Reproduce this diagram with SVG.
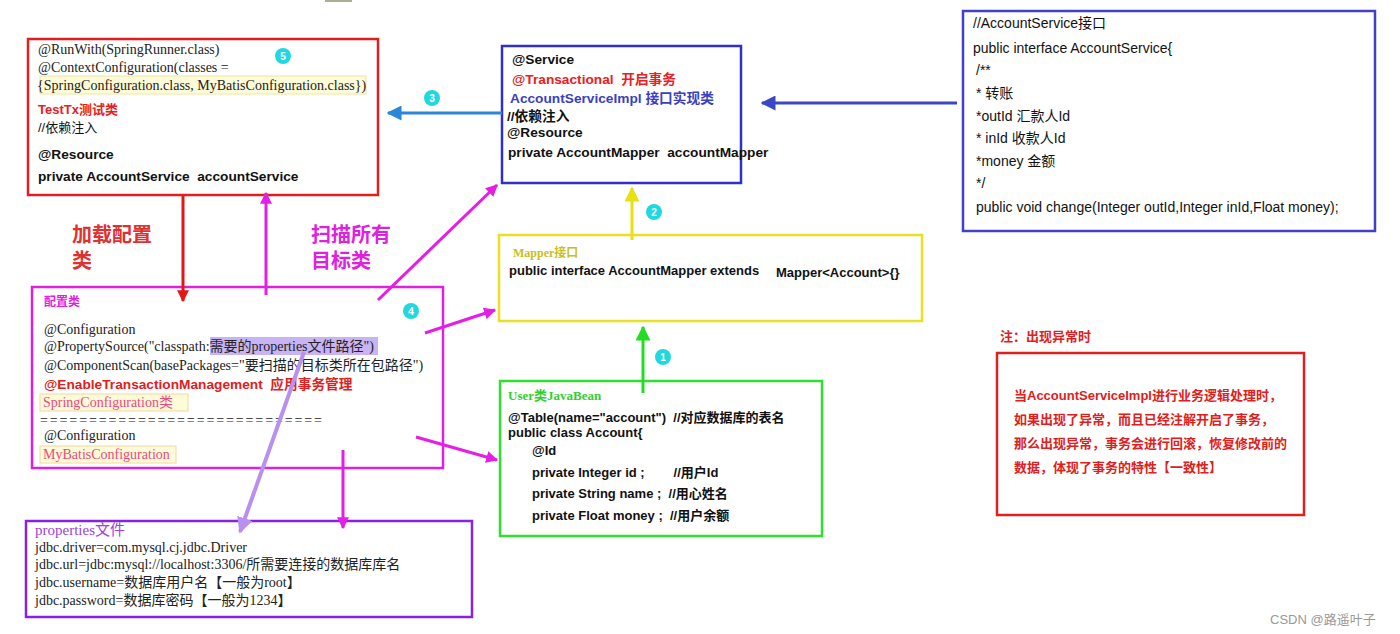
<svg xmlns="http://www.w3.org/2000/svg" width="1400" height="634" viewBox="0 0 1400 634">
<defs>
<style>
text{white-space:pre}
.serif{font-family:"Liberation Serif","Noto Sans CJK SC",serif;font-size:14px;fill:#222}
.sans{font-family:"Liberation Sans","Noto Sans CJK SC",sans-serif;font-size:13px;fill:#111}
.b{font-weight:bold}
.m{font-size:13.7px}
.badge{fill:#22d8e0}
.bt{font-family:"Liberation Sans",sans-serif;font-size:10px;fill:#fff;font-weight:bold;text-anchor:middle}
.box{fill:#fff;stroke-width:2.5}
.mg{stroke:#e51ee5;stroke-width:3;fill:none}
</style>
<marker id="aMg" viewBox="0 0 10 10" refX="9" refY="5" markerWidth="4" markerHeight="4" orient="auto"><path d="M0,0L10,5L0,10z" fill="#e51ee5"/></marker>
<marker id="aRed" viewBox="0 0 10 10" refX="9" refY="5" markerWidth="4" markerHeight="5" orient="auto"><path d="M0,0L10,5L0,10z" fill="#e01818"/></marker>
<marker id="aBlue" viewBox="0 0 10 10" refX="9" refY="5" markerWidth="5" markerHeight="5" orient="auto"><path d="M0,0L10,5L0,10z" fill="#3a48c8"/></marker>
<marker id="aLBlue" viewBox="0 0 10 10" refX="9" refY="5" markerWidth="5" markerHeight="5" orient="auto"><path d="M0,0L10,5L0,10z" fill="#2a86d8"/></marker>
<marker id="aYel" viewBox="0 0 10 10" refX="9" refY="5" markerWidth="5" markerHeight="5" orient="auto"><path d="M0,0L10,5L0,10z" fill="#e8e010"/></marker>
<marker id="aGrn" viewBox="0 0 10 10" refX="9" refY="5" markerWidth="5" markerHeight="5" orient="auto"><path d="M0,0L10,5L0,10z" fill="#22dd22"/></marker>
<marker id="aLP" viewBox="0 0 10 10" refX="9" refY="5" markerWidth="4" markerHeight="4" orient="auto"><path d="M0,0L10,5L0,10z" fill="#b890f0"/></marker>
</defs>
<rect width="1400" height="634" fill="#fff"/>
<rect x="325" y="0" width="27" height="2" fill="#a8b090"/>

<g id="node-testtx">
<rect class="box" x="28" y="39" width="350" height="156" stroke="#e02020"/>
<text class="serif" x="38" y="54">@RunWith(SpringRunner.class)</text>
<text class="serif" x="38" y="72">@ContextConfiguration(classes =</text>
<rect x="40" y="76" width="326" height="18" fill="#fdfbd8" stroke="#f0e8a0" stroke-width="1"/>
<text class="serif" x="37" y="90">{SpringConfiguration.class, MyBatisConfiguration.class})</text>
<text class="sans b" x="38" y="114" style="fill:#e82020">TestTx测试类</text>
<text class="sans" x="38" y="132">//依赖注入</text>
<text class="sans b m" x="38" y="159">@Resource</text>
<text class="sans b m" x="38" y="181">private AccountService  accountService</text>
</g>

<g id="node-service">
<rect class="box" x="502" y="46" width="239" height="137" stroke="#3030c8"/>
<text class="sans b m" x="512" y="64">@Service</text>
<text class="sans b m" x="512" y="84" style="fill:#e82020">@Transactional  开启事务</text>
<text class="sans b m" x="510" y="103" style="fill:#3a40c0">AccountServiceImpl 接口实现类</text>
<text class="sans b m" x="507" y="121">//依赖注入</text>
<text class="sans b m" x="507" y="137">@Resource</text>
<text class="sans b m" x="508" y="157">private AccountMapper  accountMapper</text>
</g>

<g id="node-accountservice">
<rect class="box" x="963" y="11" width="412" height="220" stroke="#4040c8" stroke-width="3"/>
<text class="sans" x="973" y="28" style="font-size:14px">//AccountService接口</text>
<text class="sans" x="973" y="53" style="font-size:14px">public interface AccountService{</text>
<text class="sans" x="976" y="75" style="font-size:14px">/**</text>
<text class="sans" x="976" y="98" style="font-size:14px">* 转账</text>
<text class="sans" x="976" y="121" style="font-size:14px">*outId 汇款人Id</text>
<text class="sans" x="976" y="143" style="font-size:14px">* inId 收款人Id</text>
<text class="sans" x="976" y="166" style="font-size:14px">*money 金额</text>
<text class="sans" x="976" y="188" style="font-size:14px">*/</text>
<text class="sans" x="976" y="212" style="font-size:14px">public void change(Integer outId,Integer inId,Float money);</text>
</g>

<g id="node-config">
<rect class="box" x="32" y="287" width="411" height="181" stroke="#e020e0"/>
<text class="sans b" x="44" y="306" style="fill:#e020e0;font-size:12px">配置类</text>
<text class="serif" x="44" y="334">@Configuration</text>
<rect x="210" y="337" width="168" height="18" fill="#c8b4f4"/>
<text class="serif" x="44" y="351">@PropertySource("classpath:需要的properties文件路径")</text>
<text class="serif" x="44" y="370">@ComponentScan(basePackages="要扫描的目标类所在包路径")</text>
<text class="sans b m" x="44" y="389" style="fill:#e02020">@EnableTransactionManagement  应用事务管理</text>
<rect x="40" y="394" width="148" height="17" fill="#fdfbd8" stroke="#f2d8a0" stroke-width="1"/>
<text class="serif" x="43" y="407" style="fill:#f04880">SpringConfiguration类</text>
<text class="serif" x="40" y="425" textLength="282" lengthAdjust="spacing">=============================</text>
<text class="serif" x="44" y="440">@Configuration</text>
<rect x="40" y="446" width="136" height="17" fill="#fdfbd8" stroke="#f2d8a0" stroke-width="1"/>
<text class="serif" x="43" y="459" style="fill:#f04880">MyBatisConfiguration</text>
</g>

<g id="node-mapper">
<rect class="box" x="499" y="235" width="423" height="86" stroke="#e8e020" stroke-width="3"/>
<text class="serif b" x="513" y="257" style="fill:#c8c020;font-size:12px">Mapper接口</text>
<text class="sans b" x="509" y="275">public interface AccountMapper extends</text>
<text class="sans b" x="776" y="277">Mapper&lt;Account&gt;{}</text>
</g>

<g id="node-user">
<rect class="box" x="500" y="381" width="322" height="155" stroke="#30e030" stroke-width="3"/>
<text class="serif b" x="508" y="400" style="fill:#30d030;font-size:13px">User类JavaBean</text>
<text class="sans b" x="508" y="422">@Table(name="account")  //对应数据库的表名</text>
<text class="sans b" x="508" y="437">public class Account{</text>
<text class="sans b" x="532" y="455">@Id</text>
<text class="sans b" x="532" y="477">private Integer id ;        //用户Id</text>
<text class="sans b" x="532" y="498">private String name ;  //用心姓名</text>
<text class="sans b" x="532" y="520">private Float money ;  //用户余额</text>
</g>

<g id="node-properties">
<rect class="box" x="26" y="521" width="446" height="96" stroke="#8a20e0" stroke-width="3"/>
<text class="serif" x="35" y="535" style="fill:#a040e0;font-size:15px">properties文件</text>
<text class="serif" x="35" y="552">jdbc.driver=com.mysql.cj.jdbc.Driver</text>
<text class="serif" x="35" y="569">jdbc.url=jdbc:mysql://localhost:3306/所需要连接的数据库库名</text>
<text class="serif" x="35" y="587">jdbc.username=数据库用户名【一般为root】</text>
<text class="serif" x="35" y="605">jdbc.password=数据库密码【一般为1234】</text>
</g>

<g id="node-note">
<text class="sans b" x="1000" y="341" style="fill:#e02020">注：出现异常时</text>
<rect class="box" x="997" y="353" width="307" height="162" stroke="#e02020" stroke-width="3"/>
<text class="sans b" x="1014" y="400" style="fill:#e02020">当AccountServiceImpl进行业务逻辑处理时，</text>
<text class="sans b" x="1014" y="424" style="fill:#e02020">如果出现了异常，而且已经注解开启了事务，</text>
<text class="sans b" x="1014" y="448" style="fill:#e02020">那么出现异常，事务会进行回滚，恢复修改前的</text>
<text class="sans b" x="1014" y="472" style="fill:#e02020">数据，体现了事务的特性【一致性】</text>
</g>

<g id="labels">
<text class="sans b" x="72" y="242" style="fill:#e03030;font-size:20px">加载配置</text>
<text class="sans b" x="72" y="268" style="fill:#e03030;font-size:20px">类</text>
<text class="sans b" x="311" y="242" style="fill:#e020e0;font-size:20px">扫描所有</text>
<text class="sans b" x="311" y="268" style="fill:#e020e0;font-size:20px">目标类</text>
<text x="1270" y="624" style="font-family:'Liberation Sans','Noto Sans CJK SC',sans-serif;font-size:13px;fill:#999">CSDN @路遥叶子</text>
</g>

<g id="connectors">
<line x1="957" y1="103" x2="762" y2="103" stroke="#3a48c8" stroke-width="3" marker-end="url(#aBlue)"/>
<line x1="502" y1="113" x2="388" y2="113" stroke="#2a86d8" stroke-width="3" marker-end="url(#aLBlue)"/>
<line x1="183" y1="195" x2="183" y2="301" stroke="#e01818" stroke-width="3" marker-end="url(#aRed)"/>
<line class="mg" x1="266" y1="295" x2="266" y2="193" marker-end="url(#aMg)"/>
<line class="mg" x1="378" y1="300" x2="497" y2="185" marker-end="url(#aMg)"/>
<line class="mg" x1="425" y1="333" x2="495" y2="310" marker-end="url(#aMg)"/>
<line class="mg" x1="416" y1="437" x2="497" y2="460" marker-end="url(#aMg)"/>
<line class="mg" x1="343" y1="450" x2="343" y2="528" marker-end="url(#aMg)"/>
<line x1="304" y1="352" x2="240" y2="532" stroke="#b890f0" stroke-width="4" marker-end="url(#aLP)"/>
<line x1="632" y1="240" x2="632" y2="188" stroke="#e8e010" stroke-width="3" marker-end="url(#aYel)"/>
<line x1="643" y1="393" x2="643" y2="327" stroke="#22dd22" stroke-width="3" marker-end="url(#aGrn)"/>
</g>

<g id="badges">
<circle class="badge" cx="283" cy="56" r="8"/><text class="bt" x="283" y="60">5</text>
<circle class="badge" cx="432" cy="98" r="8"/><text class="bt" x="432" y="102">3</text>
<circle class="badge" cx="654" cy="212" r="8"/><text class="bt" x="654" y="216">2</text>
<circle class="badge" cx="411" cy="311" r="8"/><text class="bt" x="411" y="315">4</text>
<circle class="badge" cx="663" cy="357" r="8"/><text class="bt" x="663" y="361">1</text>
</g>
</svg>
